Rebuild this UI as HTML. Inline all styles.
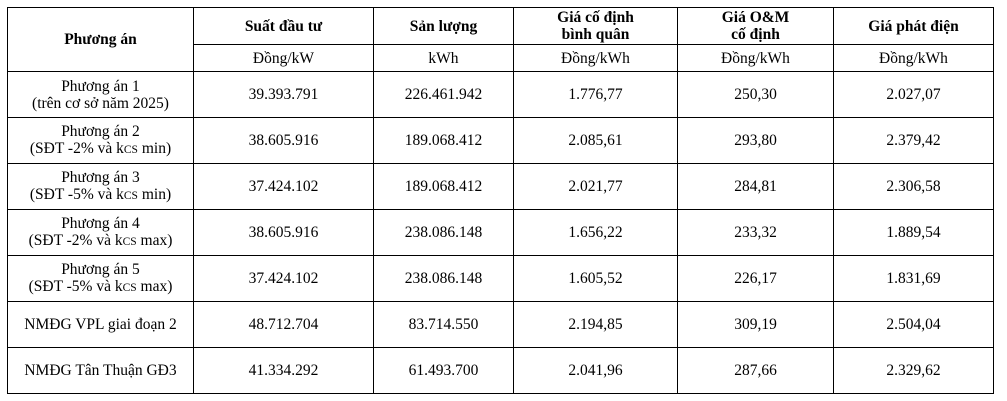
<!DOCTYPE html>
<html><head><meta charset="utf-8"><style>
body{margin:0;background:#fff;width:1007px;height:401px;overflow:hidden;font-family:"Liberation Serif",serif;font-size:15.5px;color:#000}
table{position:absolute;left:7px;top:7px;border-collapse:collapse;table-layout:fixed}
td{border:1.3px solid #000;text-align:center;vertical-align:middle;padding:0;line-height:17px}
.h{font-weight:bold}
sub{font-size:11.5px;vertical-align:0;}
</style></head><body>
<table>
<colgroup><col style="width:186px"><col style="width:180px"><col style="width:140px"><col style="width:164px"><col style="width:156px"><col style="width:160px"></colgroup>
<tr style="height:37px"><td class="h" rowspan="2">Phương án</td><td class="h">Suất đầu tư</td><td class="h">Sản lượng</td><td class="h">Giá cố định<br>bình quân</td><td class="h">Giá O&amp;M<br>cố định</td><td class="h">Giá phát điện</td></tr>
<tr style="height:27px"><td>Đồng/kW</td><td>kWh</td><td>Đồng/kWh</td><td>Đồng/kWh</td><td>Đồng/kWh</td></tr>
<tr style="height:46px"><td>Phương án 1<br>(trên cơ sở năm 2025)</td><td>39.393.791</td><td>226.461.942</td><td>1.776,77</td><td>250,30</td><td>2.027,07</td></tr>
<tr style="height:46px"><td>Phương án 2<br>(SĐT -2% và k<sub>CS</sub> min)</td><td>38.605.916</td><td>189.068.412</td><td>2.085,61</td><td>293,80</td><td>2.379,42</td></tr>
<tr style="height:46px"><td>Phương án 3<br>(SĐT -5% và k<sub>CS</sub> min)</td><td>37.424.102</td><td>189.068.412</td><td>2.021,77</td><td>284,81</td><td>2.306,58</td></tr>
<tr style="height:46px"><td>Phương án 4<br>(SĐT -2% và k<sub>CS</sub> max)</td><td>38.605.916</td><td>238.086.148</td><td>1.656,22</td><td>233,32</td><td>1.889,54</td></tr>
<tr style="height:46px"><td>Phương án 5<br>(SĐT -5% và k<sub>CS</sub> max)</td><td>37.424.102</td><td>238.086.148</td><td>1.605,52</td><td>226,17</td><td>1.831,69</td></tr>
<tr style="height:46px"><td>NMĐG VPL giai đoạn 2</td><td>48.712.704</td><td>83.714.550</td><td>2.194,85</td><td>309,19</td><td>2.504,04</td></tr>
<tr style="height:46px"><td>NMĐG Tân Thuận GĐ3</td><td>41.334.292</td><td>61.493.700</td><td>2.041,96</td><td>287,66</td><td>2.329,62</td></tr>
</table>
</body></html>
